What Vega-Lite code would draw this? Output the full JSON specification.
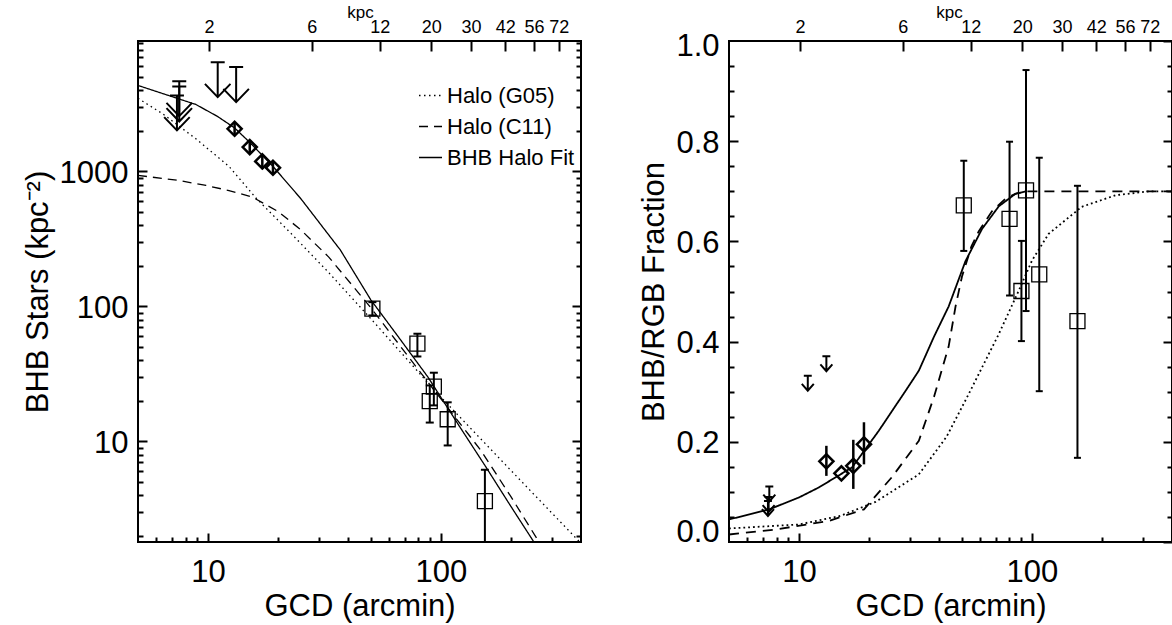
{
"$schema":"https://vega.github.io/schema/vega-lite/v6.json",
"padding":{"left":21,"top":2,"right":0,"bottom":5},
"bounds":"flush",
"spacing":148,
"background":"white",
"config":{
 "font":"Liberation Sans",
 "view":{"stroke":"black","strokeWidth":2},
 "axis":{"domain":false,"grid":false,"labelFont":"Liberation Sans","titleFont":"Liberation Sans","labelFontSize":31,"titleFontSize":31,"titleFontWeight":"normal","labelColor":"black","titleColor":"black","tickColor":"black","tickWidth":2,"labelFlush":false,"labelOverlap":false}
},
"resolve":{"scale":{"x":"independent","y":"independent","strokeDash":"independent"},"legend":{"strokeDash":"independent"}},
"datasets":{
 "leftCurves":[
  {"series":"Halo (G05)","x":5,"y":3480},{"series":"Halo (G05)","x":6.38,"y":2674},{"series":"Halo (G05)","x":8.86,"y":1746},{"series":"Halo (G05)","x":12.3,"y":1090},{"series":"Halo (G05)","x":16,"y":640},{"series":"Halo (G05)","x":23,"y":340},{"series":"Halo (G05)","x":32.9,"y":179},{"series":"Halo (G05)","x":50.4,"y":80},{"series":"Halo (G05)","x":97,"y":22.5},{"series":"Halo (G05)","x":200,"y":6.1},{"series":"Halo (G05)","x":400,"y":1.76},
  {"series":"Halo (C11)","x":5,"y":935},{"series":"Halo (C11)","x":7.5,"y":857},{"series":"Halo (C11)","x":9.8,"y":787},{"series":"Halo (C11)","x":12.3,"y":722},{"series":"Halo (C11)","x":15.5,"y":645},{"series":"Halo (C11)","x":20,"y":505},{"series":"Halo (C11)","x":25,"y":370},{"series":"Halo (C11)","x":33,"y":232},{"series":"Halo (C11)","x":50,"y":98},{"series":"Halo (C11)","x":88,"y":27.5},{"series":"Halo (C11)","x":148.6,"y":8.58},{"series":"Halo (C11)","x":200,"y":3.9},{"series":"Halo (C11)","x":264,"y":1.8},{"series":"Halo (C11)","x":290,"y":1.4},
  {"series":"BHB Halo Fit","x":5,"y":4335},{"series":"BHB Halo Fit","x":8.86,"y":3134},{"series":"BHB Halo Fit","x":11,"y":2550},{"series":"BHB Halo Fit","x":13,"y":2100},{"series":"BHB Halo Fit","x":15,"y":1660},{"series":"BHB Halo Fit","x":17,"y":1330},{"series":"BHB Halo Fit","x":19,"y":1090},{"series":"BHB Halo Fit","x":25,"y":630},{"series":"BHB Halo Fit","x":37,"y":262},{"series":"BHB Halo Fit","x":50,"y":112},{"series":"BHB Halo Fit","x":65,"y":61},{"series":"BHB Halo Fit","x":88,"y":30},{"series":"BHB Halo Fit","x":120,"y":13},{"series":"BHB Halo Fit","x":155,"y":6.6},{"series":"BHB Halo Fit","x":200,"y":3.3},{"series":"BHB Halo Fit","x":251,"y":1.8},{"series":"BHB Halo Fit","x":280,"y":1.35}
 ],
 "leftSquares":[
  {"x":50.8,"y":96.2,"lo":85.8,"hi":107.6},
  {"x":79.3,"y":53,"lo":42.6,"hi":62.8},
  {"x":93.3,"y":25.5,"lo":18.5,"hi":32.3},
  {"x":89.6,"y":19.9,"lo":13.8,"hi":26},
  {"x":107,"y":14.6,"lo":9.34,"hi":19.5},
  {"x":154.6,"y":3.61,"lo":0.1,"hi":6.17}
 ],
 "leftDiamonds":[
  {"x":13.0,"y":2070,"lo":1880,"hi":2300},
  {"x":15.1,"y":1514,"lo":1360,"hi":1700},
  {"x":17.1,"y":1186,"lo":1040,"hi":1340},
  {"x":19.0,"y":1065,"lo":960,"hi":1180}
 ],
 "leftLimits":[
  {"x":11.0,"y":6450},{"x":13.2,"y":5925},{"x":7.52,"y":4665},{"x":7.52,"y":4262},{"x":7.35,"y":3656}
 ],
 "rightCurves":[
  {"series":"Halo (G05)","x":5,"y":0.027},{"series":"Halo (G05)","x":10,"y":0.035},{"series":"Halo (G05)","x":15,"y":0.052},{"series":"Halo (G05)","x":21.3,"y":0.08},{"series":"Halo (G05)","x":32.7,"y":0.135},{"series":"Halo (G05)","x":43,"y":0.21},{"series":"Halo (G05)","x":53.5,"y":0.295},{"series":"Halo (G05)","x":72.1,"y":0.415},{"series":"Halo (G05)","x":87.9,"y":0.502},{"series":"Halo (G05)","x":100.2,"y":0.562},{"series":"Halo (G05)","x":118,"y":0.615},{"series":"Halo (G05)","x":163.7,"y":0.669},{"series":"Halo (G05)","x":228.5,"y":0.692},{"series":"Halo (G05)","x":317.6,"y":0.7},{"series":"Halo (G05)","x":400,"y":0.7},
  {"series":"Halo (C11)","x":5,"y":0.015},{"series":"Halo (C11)","x":7.93,"y":0.025},{"series":"Halo (C11)","x":13.4,"y":0.042},{"series":"Halo (C11)","x":19,"y":0.065},{"series":"Halo (C11)","x":25.1,"y":0.13},{"series":"Halo (C11)","x":32.7,"y":0.202},{"series":"Halo (C11)","x":38,"y":0.29},{"series":"Halo (C11)","x":43.9,"y":0.39},{"series":"Halo (C11)","x":47,"y":0.47},{"series":"Halo (C11)","x":50.1,"y":0.53},{"series":"Halo (C11)","x":55,"y":0.59},{"series":"Halo (C11)","x":59.1,"y":0.62},{"series":"Halo (C11)","x":67.4,"y":0.66},{"series":"Halo (C11)","x":77,"y":0.685},{"series":"Halo (C11)","x":85,"y":0.695},{"series":"Halo (C11)","x":94.2,"y":0.7},{"series":"Halo (C11)","x":400,"y":0.7},
  {"series":"BHB Halo Fit","x":5,"y":0.045},{"series":"BHB Halo Fit","x":7.43,"y":0.065},{"series":"BHB Halo Fit","x":10,"y":0.089},{"series":"BHB Halo Fit","x":12.17,"y":0.109},{"series":"BHB Halo Fit","x":16.9,"y":0.149},{"series":"BHB Halo Fit","x":22,"y":0.222},{"series":"BHB Halo Fit","x":28.7,"y":0.302},{"series":"BHB Halo Fit","x":32.7,"y":0.342},{"series":"BHB Halo Fit","x":38,"y":0.41},{"series":"BHB Halo Fit","x":43.9,"y":0.47},{"series":"BHB Halo Fit","x":51.8,"y":0.56},{"series":"BHB Halo Fit","x":61.1,"y":0.625},{"series":"BHB Halo Fit","x":72.1,"y":0.67},{"series":"BHB Halo Fit","x":85,"y":0.695},{"series":"BHB Halo Fit","x":94.4,"y":0.7}
 ],
 "rightSquares":[
  {"x":51.0,"y":0.672,"lo":0.581,"hi":0.761},
  {"x":80.2,"y":0.645,"lo":0.492,"hi":0.799},
  {"x":90.2,"y":0.501,"lo":0.401,"hi":0.601},
  {"x":94.4,"y":0.702,"lo":0.461,"hi":0.942},
  {"x":107.6,"y":0.534,"lo":0.301,"hi":0.767},
  {"x":157,"y":0.441,"lo":0.168,"hi":0.711}
 ],
 "rightDiamonds":[
  {"x":13.1,"y":0.161,"lo":0.132,"hi":0.192},
  {"x":15.2,"y":0.137,"lo":0.137,"hi":0.137},
  {"x":17.1,"y":0.152,"lo":0.106,"hi":0.204},
  {"x":19.0,"y":0.195,"lo":0.155,"hi":0.239}
 ],
 "rightLimits":[
  {"x":7.45,"y":0.111},{"x":7.4,"y":0.09},{"x":7.35,"y":0.082},{"x":10.9,"y":0.332},{"x":13.1,"y":0.371}
 ]
},
"hconcat":[
 {
  "width":443,"height":501,
  "resolve":{"axis":{"x":"independent","y":"independent"}},
  "layer":[
   {
    "data":{"name":"leftCurves"},
    "mark":{"type":"line","clip":true,"strokeWidth":1.3,"color":"black"},
    "encoding":{
     "x":{"field":"x","type":"quantitative","scale":{"type":"log","domain":[5,400],"nice":false},
      "axis":{"orient":"bottom","values":[10,100],"format":"d","tickSize":-9,"labelPadding":24,"title":"GCD (arcmin)","titlePadding":4}},
     "y":{"field":"y","type":"quantitative","scale":{"type":"log","domain":[1.8,9250],"nice":false},
      "axis":{"orient":"left","values":[10,100,1000],"format":"d","tickSize":-9,"labelPadding":19,"labelOffset":2,"title":"BHB Stars (kpc⁻²)","titlePadding":5}},
     "strokeDash":{"field":"series","type":"nominal","scale":{"domain":["Halo (G05)","Halo (C11)","BHB Halo Fit"],"range":[[1.5,3.5],[9,6],[1,0]]},
      "legend":{"orient":"none","legendX":280,"legendY":42,"title":null,"symbolType":"stroke","symbolSize":529,"symbolStrokeWidth":1.3,"symbolStrokeColor":"black","labelFont":"Liberation Sans","labelFontSize":22,"labelColor":"black","labelOffset":4,"rowPadding":7,"labelLimit":300}}
    }
   },
   {
    "data":{"name":"leftSquares"},
    "mark":{"type":"rule","clip":true,"strokeWidth":2,"color":"black"},
    "encoding":{
     "x":{"field":"x","type":"quantitative","scale":{"type":"log","domain":[5,400],"nice":false},
      "axis":{"orient":"bottom","values":[6,7,8,9,20,30,40,50,60,70,80,90,200,300],"tickSize":-5,"labels":false,"title":null}},
     "y":{"field":"lo","type":"quantitative","scale":{"type":"log","domain":[1.8,9250],"nice":false},
      "axis":{"orient":"left","values":[2,3,4,5,6,7,8,9,20,30,40,50,60,70,80,90,200,300,400,500,600,700,800,900,2000,3000,4000,5000,6000,7000,8000,9000],"tickSize":-5,"labels":false,"title":null}},
     "y2":{"field":"hi"}
    }
   },
   {
    "data":{"name":"leftSquares"},
    "transform":[{"fold":["lo","hi"],"as":["end","v"]}],
    "mark":{"type":"point","clip":true,"shape":"M-1,0L1,0","size":64,"filled":false,"strokeWidth":2,"color":"black","opacity":1},
    "encoding":{
     "x":{"field":"x","type":"quantitative","scale":{"type":"log","domain":[5,400],"nice":false},
      "axis":{"orient":"top","values":[10.1,27.9,54.7,90.9,134.9,189,251.4,321],"tickSize":-10,"labelPadding":15,"labelFontSize":18,
       "labelExpr":"datum.value < 15 ? '2' : datum.value < 40 ? '6' : datum.value < 70 ? '12' : datum.value < 110 ? '20' : datum.value < 160 ? '30' : datum.value < 220 ? '42' : datum.value < 290 ? '56' : '72'",
       "title":"kpc","titleFontSize":17,"titleX":222,"titleY":-24,"titleAlign":"center","titleBaseline":"alphabetic","titleAngle":0}},
     "y":{"field":"v","type":"quantitative","scale":{"type":"log","domain":[1.8,9250],"nice":false},
      "axis":{"orient":"right","values":[10,100,1000],"tickSize":-9,"labels":false,"title":null}}
    }
   },
   {
    "data":{"name":"leftSquares"},
    "mark":{"type":"point","clip":true,"shape":"square","size":225,"filled":false,"strokeWidth":1.3,"color":"black","opacity":1},
    "encoding":{
     "x":{"field":"x","type":"quantitative","scale":{"type":"log","domain":[5,400],"nice":false},"axis":null},
     "y":{"field":"y","type":"quantitative","scale":{"type":"log","domain":[1.8,9250],"nice":false},
      "axis":{"orient":"right","values":[2,3,4,5,6,7,8,9,20,30,40,50,60,70,80,90,200,300,400,500,600,700,800,900,2000,3000,4000,5000,6000,7000,8000,9000],"tickSize":-5,"labels":false,"title":null}}
    }
   },
   {
    "data":{"name":"leftDiamonds"},
    "mark":{"type":"rule","clip":true,"strokeWidth":2.5,"color":"black"},
    "encoding":{
     "x":{"field":"x","type":"quantitative","scale":{"type":"log","domain":[5,400],"nice":false},"axis":null},
     "y":{"field":"lo","type":"quantitative","scale":{"type":"log","domain":[1.8,9250],"nice":false},"axis":null},
     "y2":{"field":"hi"}
    }
   },
   {
    "data":{"name":"leftDiamonds"},
    "mark":{"type":"point","clip":true,"shape":"diamond","size":200,"filled":false,"strokeWidth":2.5,"color":"black","opacity":1},
    "encoding":{
     "x":{"field":"x","type":"quantitative","scale":{"type":"log","domain":[5,400],"nice":false},"axis":null},
     "y":{"field":"y","type":"quantitative","scale":{"type":"log","domain":[1.8,9250],"nice":false},"axis":null}
    }
   },
   {
    "data":{"name":"leftLimits"},
    "mark":{"type":"point","clip":true,"shape":"M-0.4,0L0.4,0M0,0L0,2M-0.73,1.24L0,2L0.73,1.24","size":1225,"filled":false,"strokeWidth":2,"color":"black","opacity":1},
    "encoding":{
     "x":{"field":"x","type":"quantitative","scale":{"type":"log","domain":[5,400],"nice":false},"axis":null},
     "y":{"field":"y","type":"quantitative","scale":{"type":"log","domain":[1.8,9250],"nice":false},"axis":null}
    }
   }
  ]
 },
 {
  "width":443,"height":501,
  "resolve":{"axis":{"x":"independent","y":"independent"}},
  "layer":[
   {
    "data":{"name":"rightCurves"},
    "mark":{"type":"line","clip":true,"strokeWidth":1.8,"color":"black"},
    "encoding":{
     "x":{"field":"x","type":"quantitative","scale":{"type":"log","domain":[5,400],"nice":false},
      "axis":{"orient":"bottom","values":[10,100],"format":"d","tickSize":-9,"labelPadding":24,"title":"GCD (arcmin)","titlePadding":4}},
     "y":{"field":"y","type":"quantitative","scale":{"domain":[0,1],"nice":false},
      "axis":{"orient":"left","values":[0.2,0.4,0.6,0.8],"format":".1f","tickSize":-9,"labelPadding":19,"labelOffset":2,"title":"BHB/RGB Fraction","titlePadding":5}},
     "strokeDash":{"field":"series","type":"nominal","scale":{"domain":["Halo (G05)","Halo (C11)","BHB Halo Fit"],"range":[[1.8,3],[10,7],[1,0]]},"legend":null}
    }
   },
   {
    "data":{"name":"rightSquares"},
    "mark":{"type":"rule","clip":true,"strokeWidth":2,"color":"black"},
    "encoding":{
     "x":{"field":"x","type":"quantitative","scale":{"type":"log","domain":[5,400],"nice":false},
      "axis":{"orient":"bottom","values":[6,7,8,9,20,30,40,50,60,70,80,90,200,300],"tickSize":-5,"labels":false,"title":null}},
     "y":{"field":"lo","type":"quantitative","scale":{"domain":[0,1],"nice":false},
      "axis":{"orient":"left","values":[0.05,0.1,0.15,0.25,0.3,0.35,0.45,0.5,0.55,0.65,0.7,0.75,0.85,0.9,0.95],"tickSize":-5,"labels":false,"title":null}},
     "y2":{"field":"hi"}
    }
   },
   {
    "data":{"name":"rightSquares"},
    "transform":[{"fold":["lo","hi"],"as":["end","v"]}],
    "mark":{"type":"point","clip":true,"shape":"M-1,0L1,0","size":49,"filled":false,"strokeWidth":2,"color":"black","opacity":1},
    "encoding":{
     "x":{"field":"x","type":"quantitative","scale":{"type":"log","domain":[5,400],"nice":false},
      "axis":{"orient":"top","values":[10.1,27.9,54.7,90.9,134.9,189,251.4,321],"tickSize":-10,"labelPadding":15,"labelFontSize":18,
       "labelExpr":"datum.value < 15 ? '2' : datum.value < 40 ? '6' : datum.value < 70 ? '12' : datum.value < 110 ? '20' : datum.value < 160 ? '30' : datum.value < 220 ? '42' : datum.value < 290 ? '56' : '72'",
       "title":"kpc","titleFontSize":17,"titleX":220,"titleY":-24,"titleAlign":"center","titleBaseline":"alphabetic","titleAngle":0}},
     "y":{"field":"v","type":"quantitative","scale":{"domain":[0,1],"nice":false},
      "axis":{"orient":"right","values":[0,0.2,0.4,0.6,0.8,1.0],"tickSize":-9,"labels":false,"title":null}}
    }
   },
   {
    "data":{"name":"rightSquares"},
    "mark":{"type":"point","clip":true,"shape":"square","size":225,"filled":false,"strokeWidth":1.3,"color":"black","opacity":1},
    "encoding":{
     "x":{"field":"x","type":"quantitative","scale":{"type":"log","domain":[5,400],"nice":false},"axis":null},
     "y":{"field":"y","type":"quantitative","scale":{"domain":[0,1],"nice":false},
      "axis":{"orient":"right","values":[0.05,0.1,0.15,0.25,0.3,0.35,0.45,0.5,0.55,0.65,0.7,0.75,0.85,0.9,0.95],"tickSize":-5,"labels":false,"title":null}}
    }
   },
   {
    "data":{"name":"rightDiamonds"},
    "mark":{"type":"rule","clip":true,"strokeWidth":2.5,"color":"black"},
    "encoding":{
     "x":{"field":"x","type":"quantitative","scale":{"type":"log","domain":[5,400],"nice":false},"axis":null},
     "y":{"field":"lo","type":"quantitative","scale":{"domain":[0,1],"nice":false},
      "axis":{"orient":"left","values":[0],"format":".1f","ticks":false,"labelPadding":10,"labelOffset":-10,"title":null}},
     "y2":{"field":"hi"}
    }
   },
   {
    "data":{"name":"rightDiamonds"},
    "mark":{"type":"point","clip":true,"shape":"diamond","size":200,"filled":false,"strokeWidth":2.5,"color":"black","opacity":1},
    "encoding":{
     "x":{"field":"x","type":"quantitative","scale":{"type":"log","domain":[5,400],"nice":false},"axis":null},
     "y":{"field":"y","type":"quantitative","scale":{"domain":[0,1],"nice":false},
      "axis":{"orient":"left","values":[1],"format":".1f","ticks":false,"labelPadding":10,"labelOffset":5,"title":null}}
    }
   },
   {
    "data":{"name":"rightLimits"},
    "mark":{"type":"point","clip":true,"shape":"M-0.53,0L0.53,0M0,0L0,2M-0.8,1.1L0,2L0.8,1.1","size":225,"filled":false,"strokeWidth":2,"color":"black","opacity":1},
    "encoding":{
     "x":{"field":"x","type":"quantitative","scale":{"type":"log","domain":[5,400],"nice":false},"axis":null},
     "y":{"field":"y","type":"quantitative","scale":{"domain":[0,1],"nice":false},"axis":null}
    }
   }
  ]
 }
]
}
